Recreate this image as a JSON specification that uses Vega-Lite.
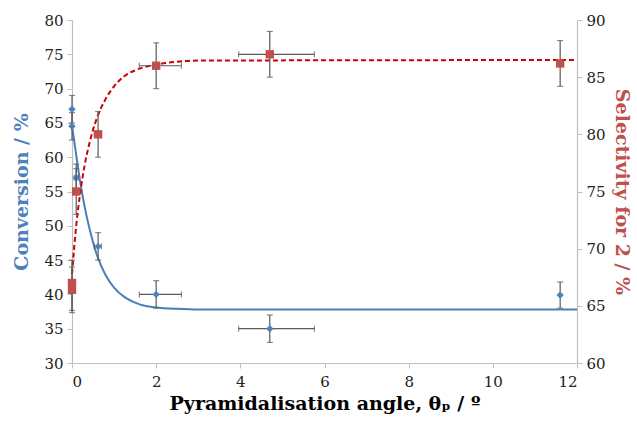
{
  "$schema": "https://vega.github.io/schema/vega-lite/v6.json",
  "width": 505,
  "height": 343,
  "autosize": "none",
  "padding": {"left": 72, "top": 20, "right": 60, "bottom": 63},
  "background": "white",
  "config": {
    "view": {"stroke": null},
    "axis": {
      "grid": false,
      "domainColor": "#BFBFBF",
      "tickColor": "#BFBFBF",
      "domainWidth": 1.2,
      "tickSize": 5,
      "labelFont": "DejaVu Serif",
      "labelFontSize": 15,
      "labelColor": "#222222",
      "titleFont": "DejaVu Serif",
      "titleFontWeight": "bold",
      "titleFontSize": 19
    }
  },
  "datasets": {
    "conv": [
      {"x": 0, "y": 67, "lo": 65, "hi": 69},
      {"x": 0, "y": 64.5, "lo": 62.5, "hi": 66.5},
      {"x": 0.1, "y": 57, "lo": 55, "hi": 59, "xlo": 0.05, "xhi": 0.15},
      {"x": 0.62, "y": 47, "lo": 45, "hi": 49, "xlo": 0.53, "xhi": 0.7},
      {"x": 2, "y": 40, "lo": 38, "hi": 42, "xlo": 1.6, "xhi": 2.6},
      {"x": 4.7, "y": 35, "lo": 33, "hi": 37, "xlo": 3.96, "xhi": 5.76},
      {"x": 11.6, "y": 39.9, "lo": 38, "hi": 41.8}
    ],
    "sel": [
      {"x": 0, "y": 67, "lo": 64.6, "hi": 69},
      {"x": 0, "y": 66.4, "lo": 64.4, "hi": 68.4},
      {"x": 0.1, "y": 75, "lo": 73, "hi": 77, "xlo": 0.05, "xhi": 0.15},
      {"x": 0.62, "y": 80, "lo": 78, "hi": 82, "xlo": 0.53, "xhi": 0.7},
      {"x": 2, "y": 86, "lo": 84, "hi": 88, "xlo": 1.6, "xhi": 2.6},
      {"x": 4.7, "y": 87, "lo": 85, "hi": 89, "xlo": 3.96, "xhi": 5.76},
      {"x": 11.6, "y": 86.2, "lo": 84.2, "hi": 88.2}
    ],
    "convfit": [
      {"x": 0, "y": 64.5}, {"x": 0.05, "y": 62.5}, {"x": 0.1, "y": 60.3},
      {"x": 0.2, "y": 56.2}, {"x": 0.3, "y": 52.8}, {"x": 0.4, "y": 50},
      {"x": 0.5, "y": 47.6}, {"x": 0.6, "y": 45.6}, {"x": 0.8, "y": 42.8},
      {"x": 1.0, "y": 41}, {"x": 1.25, "y": 39.6}, {"x": 1.5, "y": 38.8},
      {"x": 1.75, "y": 38.3}, {"x": 2, "y": 38.1}, {"x": 2.5, "y": 37.9},
      {"x": 3, "y": 37.8}, {"x": 12, "y": 37.8}
    ],
    "selfit": [
      {"x": 0, "y": 67.8}, {"x": 0.05, "y": 70}, {"x": 0.1, "y": 72},
      {"x": 0.2, "y": 75}, {"x": 0.3, "y": 77.3}, {"x": 0.4, "y": 79},
      {"x": 0.5, "y": 80.4}, {"x": 0.6, "y": 81.5}, {"x": 0.8, "y": 83.1},
      {"x": 1, "y": 84.2}, {"x": 1.25, "y": 85.1}, {"x": 1.5, "y": 85.6},
      {"x": 2, "y": 86.1}, {"x": 2.5, "y": 86.35}, {"x": 3, "y": 86.45},
      {"x": 12, "y": 86.5}
    ]
  },
  "layer": [
    {
      "layer": [
        {
          "data": {"name": "convfit"},
          "mark": {"type": "line", "color": "#4A7EBB", "strokeWidth": 2, "interpolate": "monotone"},
          "encoding": {
            "x": {"field": "x", "type": "quantitative", "scale": {"domain": [0, 12], "nice": false},
                  "axis": {"title": "Pyramidalisation angle, θₚ / º", "values": [0, 2, 4, 6, 8, 10, 12], "labelPadding": 6, "titlePadding": 5, "titleColor": "#000000"}},
            "y": {"field": "y", "type": "quantitative", "scale": {"domain": [30, 80], "nice": false, "zero": false},
                  "axis": {"title": "Conversion / %", "values": [30, 35, 40, 45, 50, 55, 60, 65, 70, 75, 80], "titleColor": "#4F81BD", "titlePadding": 12, "labelPadding": 4}}
          }
        },
        {
          "data": {"name": "conv"},
          "mark": {"type": "errorbar", "color": "#595959", "thickness": 1.2, "ticks": {"size": 6, "color": "#595959"}},
          "encoding": {
            "x": {"field": "x", "type": "quantitative",
                  "axis": {"title": "Pyramidalisation angle, θₚ / º", "values": [0, 2, 4, 6, 8, 10, 12], "labelPadding": 6, "titlePadding": 5, "titleColor": "#000000"}},
            "y": {"field": "lo", "type": "quantitative",
                  "axis": {"title": "Conversion / %", "values": [30, 35, 40, 45, 50, 55, 60, 65, 70, 75, 80], "titleColor": "#4F81BD", "titlePadding": 12, "labelPadding": 4}},
            "y2": {"field": "hi"}
          }
        },
        {
          "data": {"name": "conv"},
          "transform": [{"filter": "datum.xlo != null"}],
          "mark": {"type": "errorbar", "color": "#595959", "thickness": 1.2, "ticks": {"size": 6, "color": "#595959"}},
          "encoding": {
            "x": {"field": "xlo", "type": "quantitative",
                  "axis": {"title": "Pyramidalisation angle, θₚ / º", "values": [0, 2, 4, 6, 8, 10, 12], "labelPadding": 6, "titlePadding": 5, "titleColor": "#000000"}},
            "x2": {"field": "xhi"},
            "y": {"field": "y", "type": "quantitative",
                  "axis": {"title": "Conversion / %", "values": [30, 35, 40, 45, 50, 55, 60, 65, 70, 75, 80], "titleColor": "#4F81BD", "titlePadding": 12, "labelPadding": 4}}
          }
        },
        {
          "data": {"name": "conv"},
          "mark": {"type": "point", "shape": "diamond", "filled": true, "color": "#4F81BD", "size": 55, "opacity": 1},
          "encoding": {
            "x": {"field": "x", "type": "quantitative",
                  "axis": {"title": "Pyramidalisation angle, θₚ / º", "values": [0, 2, 4, 6, 8, 10, 12], "labelPadding": 6, "titlePadding": 5, "titleColor": "#000000"}},
            "y": {"field": "y", "type": "quantitative",
                  "axis": {"title": "Conversion / %", "values": [30, 35, 40, 45, 50, 55, 60, 65, 70, 75, 80], "titleColor": "#4F81BD", "titlePadding": 12, "labelPadding": 4}}
          }
        }
      ]
    },
    {
      "layer": [
        {
          "data": {"name": "selfit"},
          "mark": {"type": "line", "color": "#CC0000", "strokeWidth": 2, "strokeDash": [5, 3], "interpolate": "monotone"},
          "encoding": {
            "x": {"field": "x", "type": "quantitative",
                  "axis": {"title": "Pyramidalisation angle, θₚ / º", "values": [0, 2, 4, 6, 8, 10, 12], "labelPadding": 6, "titlePadding": 5, "titleColor": "#000000"}},
            "y": {"field": "y", "type": "quantitative", "scale": {"domain": [60, 90], "nice": false, "zero": false},
                  "axis": {"orient": "right", "title": "Selectivity for 2 / %", "values": [60, 65, 70, 75, 80, 85, 90], "titleColor": "#C0504D", "titlePadding": 6, "labelPadding": 4}}
          }
        },
        {
          "data": {"name": "sel"},
          "mark": {"type": "errorbar", "color": "#595959", "thickness": 1.2, "ticks": {"size": 6, "color": "#595959"}},
          "encoding": {
            "x": {"field": "x", "type": "quantitative",
                  "axis": {"title": "Pyramidalisation angle, θₚ / º", "values": [0, 2, 4, 6, 8, 10, 12], "labelPadding": 6, "titlePadding": 5, "titleColor": "#000000"}},
            "y": {"field": "lo", "type": "quantitative",
                  "axis": {"orient": "right", "title": "Selectivity for 2 / %", "values": [60, 65, 70, 75, 80, 85, 90], "titleColor": "#C0504D", "titlePadding": 6, "labelPadding": 4}},
            "y2": {"field": "hi"}
          }
        },
        {
          "data": {"name": "sel"},
          "transform": [{"filter": "datum.xlo != null"}],
          "mark": {"type": "errorbar", "color": "#595959", "thickness": 1.2, "ticks": {"size": 6, "color": "#595959"}},
          "encoding": {
            "x": {"field": "xlo", "type": "quantitative",
                  "axis": {"title": "Pyramidalisation angle, θₚ / º", "values": [0, 2, 4, 6, 8, 10, 12], "labelPadding": 6, "titlePadding": 5, "titleColor": "#000000"}},
            "x2": {"field": "xhi"},
            "y": {"field": "y", "type": "quantitative",
                  "axis": {"orient": "right", "title": "Selectivity for 2 / %", "values": [60, 65, 70, 75, 80, 85, 90], "titleColor": "#C0504D", "titlePadding": 6, "labelPadding": 4}}
          }
        },
        {
          "data": {"name": "sel"},
          "mark": {"type": "point", "shape": "square", "filled": true, "color": "#C0504D", "size": 70, "opacity": 1},
          "encoding": {
            "x": {"field": "x", "type": "quantitative",
                  "axis": {"title": "Pyramidalisation angle, θₚ / º", "values": [0, 2, 4, 6, 8, 10, 12], "labelPadding": 6, "titlePadding": 5, "titleColor": "#000000"}},
            "y": {"field": "y", "type": "quantitative",
                  "axis": {"orient": "right", "title": "Selectivity for 2 / %", "values": [60, 65, 70, 75, 80, 85, 90], "titleColor": "#C0504D", "titlePadding": 6, "labelPadding": 4}}
          }
        }
      ]
    }
  ],
  "resolve": {"scale": {"y": "independent"}}
}
